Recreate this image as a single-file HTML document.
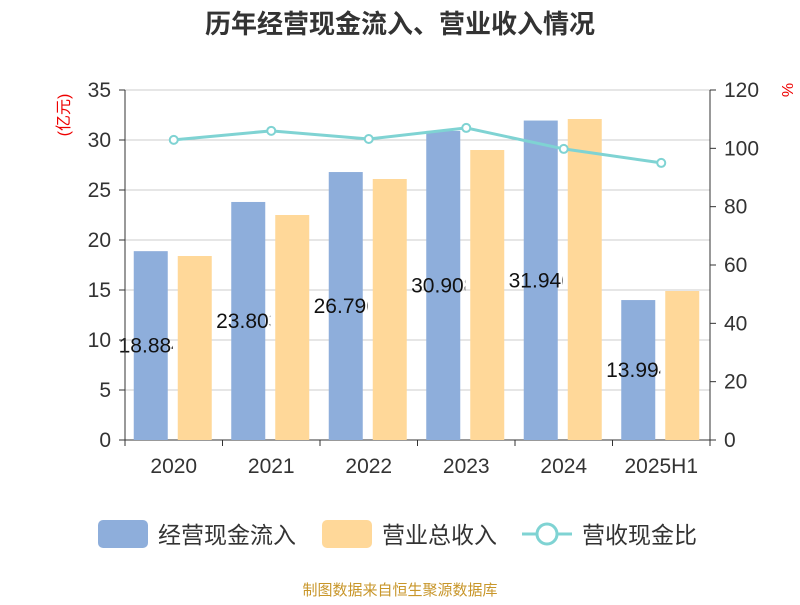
<!DOCTYPE html>
<html><head><meta charset="utf-8"><style>
body{margin:0;background:#fff;}
svg text{font-family:"Liberation Sans","Noto Sans CJK SC",sans-serif;}
</style></head><body>
<svg id="chart" width="800" height="600" xmlns="http://www.w3.org/2000/svg">
<text x="400" y="33" text-anchor="middle" font-size="26" font-weight="bold" fill="#333">历年经营现金流入、营业收入情况</text>
<text transform="translate(69,115) rotate(-90)" text-anchor="middle" font-size="16" fill="#e00">(亿元)</text>
<text transform="translate(782,90) rotate(90)" text-anchor="middle" font-size="16" fill="#e00">%</text>
<g id="grid"></g><g id="bars"></g><g id="axes"></g><g id="line"></g>
<g>
<g><rect x="98" y="520" width="50" height="28" rx="5" fill="#8eaedb"/><text x="158" y="543" font-size="23" fill="#333">经营现金流入</text></g>
<g><rect x="322" y="520" width="50" height="28" rx="5" fill="#ffd899"/><text x="382" y="543" font-size="23" fill="#333">营业总收入</text></g>
<g><line x1="522" y1="534" x2="572" y2="534" stroke="#7fd3d3" stroke-width="3"/><circle cx="547" cy="534" r="10" fill="#fff" stroke="#7fd3d3" stroke-width="3"/><text x="582" y="543" font-size="23" fill="#333">营收现金比</text></g>
</g>
<text x="400" y="595" text-anchor="middle" font-size="15" fill="#c8962a">制图数据来自恒生聚源数据库</text>
</svg>
<script>
const categories=["2020","2021","2022","2023","2024","2025H1"];
const cashInflow=[18.884,23.803,26.796,30.908,31.946,13.994];
const revenue=[18.4,22.5,26.1,29.0,32.1,14.9];
const ratio=[102.9,106.0,103.2,107.0,99.8,95.0];
const leftTicks=[0,5,10,15,20,25,30,35];
const rightTicks=[0,20,40,60,80,100,120];
const NS="http://www.w3.org/2000/svg";
const X0=125,X1=710,Y0=440,Y1=90;
const yL=v=>Y0-(v/35)*(Y0-Y1);
const yR=v=>Y0-(v/120)*(Y0-Y1);
const bw=(X1-X0)/categories.length;
const xc=i=>X0+bw*(i+0.5);
function mk(t,a,p){const e=document.createElementNS(NS,t);for(const k in a)e.setAttribute(k,a[k]);p.appendChild(e);return e;}
const grid=document.getElementById('grid'),axes=document.getElementById('axes'),bars=document.getElementById('bars'),lineG=document.getElementById('line');
leftTicks.forEach(v=>{
 const l=mk('line',{x1:X0,x2:X1,y1:yL(v),y2:yL(v),stroke:v===0?'#333':'#ccc','stroke-width':1},grid);
 
 
 mk('line',{x1:X0-6,x2:X0,y1:yL(v),y2:yL(v),stroke:'#333'},axes);
 const t=mk('text',{x:X0-14,y:yL(v)+7,'text-anchor':'end','font-size':21,fill:'#333'},axes);t.textContent=v;
 
 
});
rightTicks.forEach(v=>{
 mk('line',{x1:X1,x2:X1+6,y1:yR(v),y2:yR(v),stroke:'#333'},axes);
 const t=mk('text',{x:X1+14,y:yR(v)+7,'font-size':21,fill:'#333'},axes);t.textContent=v;
 
 
});
mk('line',{x1:X0,x2:X0,y1:Y1,y2:Y0,stroke:'#333'},axes);
mk('line',{x1:X1,x2:X1,y1:Y1,y2:Y0,stroke:'#333'},axes);
for(let i=0;i<=categories.length;i++)mk('line',{x1:X0+bw*i,x2:X0+bw*i,y1:Y0,y2:Y0+6,stroke:'#333'},axes);
const defs=mk('defs',{},bars);
categories.forEach((c,i)=>{
 const t=mk('text',{x:xc(i),y:Y0+33,'text-anchor':'middle','font-size':21,fill:'#333'},axes);t.textContent=c;
 
 
 const bx=xc(i)-40,w=34;
 const b=mk('rect',{x:bx,y:yL(cashInflow[i]),width:w,height:Y0-yL(cashInflow[i]),fill:'#8eaedb'},bars);
 
 
 const cp=mk('clipPath',{id:'cp'+i},defs);mk('rect',{x:bx-100,y:0,width:105+w,height:600},cp);
 const lb=mk('text',{x:bx+w/2,y:(yL(cashInflow[i])+Y0)/2+7,'text-anchor':'middle','font-size':21,fill:'#111','clip-path':'url(#cp'+i+')'},bars);
 lb.textContent=cashInflow[i].toFixed(3);
 
 
 const r=mk('rect',{x:xc(i)+4,y:yL(revenue[i]),width:w,height:Y0-yL(revenue[i]),fill:'#ffd899'},bars);
 
 
});
const pts=ratio.map((v,i)=>xc(i)+','+yR(v)).join(' ');
const pl=mk('polyline',{points:pts,fill:'none',stroke:'#7fd3d3','stroke-width':3},lineG);


ratio.forEach((v,i)=>{
 const p=mk('circle',{cx:xc(i),cy:yR(v),r:4,fill:'#fff',stroke:'#7fd3d3','stroke-width':2},lineG);
 
 
});
</script>
</body></html>
